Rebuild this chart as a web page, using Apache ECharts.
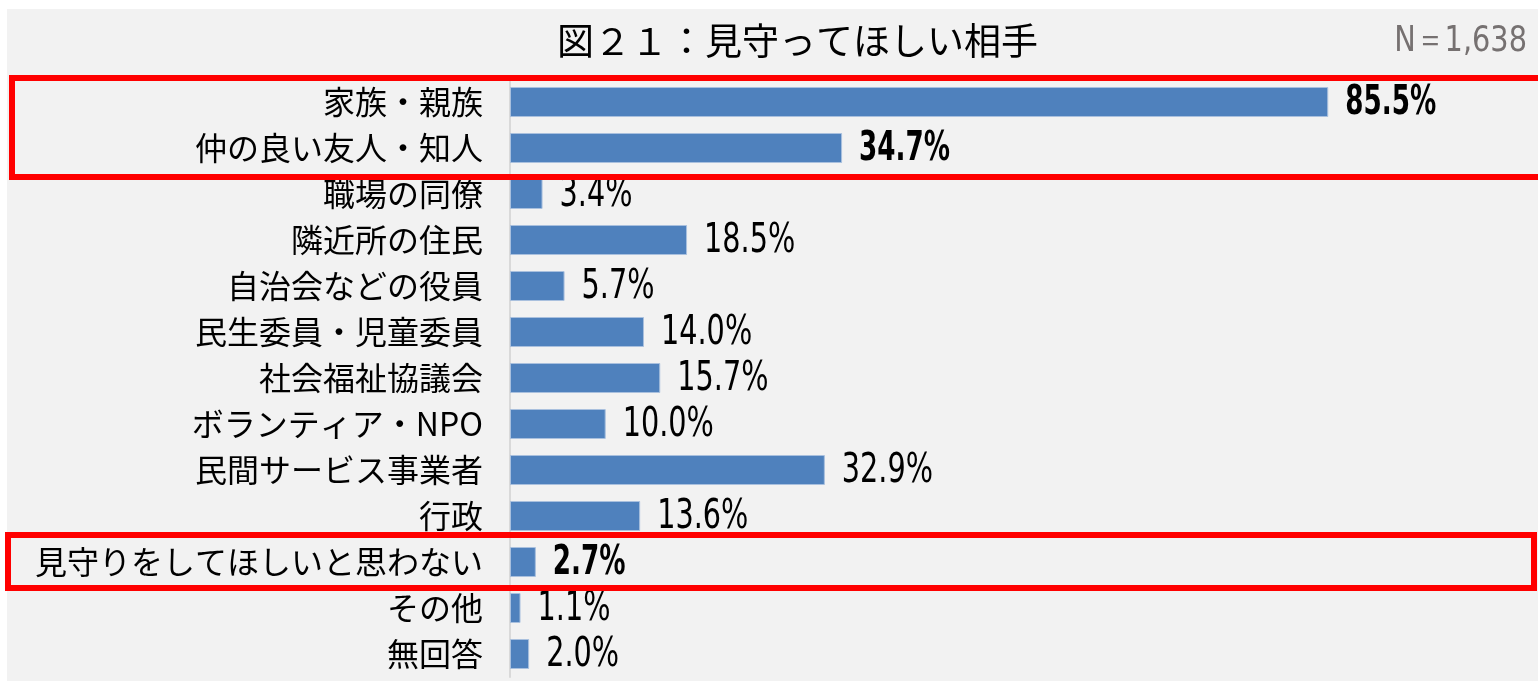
<!DOCTYPE html>
<html>
<head>
<meta charset="utf-8">
<script src="https://cdn.jsdelivr.net/npm/echarts@6/dist/echarts.min.js"></script>
<style>
  html, body { margin: 0; padding: 0; background: #fff; }
  #chart { width: 1538px; height: 681px; }
</style>
</head>
<body>
<div id="chart"></div>
<script>
// 図２１：見守ってほしい相手
const categories = [
  '家族・親族', '仲の良い友人・知人', '職場の同僚', '隣近所の住民', '自治会などの役員',
  '民生委員・児童委員', '社会福祉協議会', 'ボランティア・NPO', '民間サービス事業者',
  '行政', '見守りをしてほしいと思わない', 'その他', '無回答'
];
const values = [85.5, 34.7, 3.4, 18.5, 5.7, 14.0, 15.7, 10.0, 32.9, 13.6, 2.7, 1.1, 2.0];
// 赤枠で強調している項目
const highlighted = ['家族・親族', '仲の良い友人・知人', '見守りをしてほしいと思わない'];

const num = '"DejaVu Sans", sans-serif';
const jp = '"Noto Sans CJK JP", sans-serif';

const chart = echarts.init(document.getElementById('chart'));

// 数値ラベルは細長い字形なので横方向に縮めて描く
const renderLabel = (params, api) => {
  const idx = api.value(1);
  const pt = api.coord([api.value(0), idx]);
  const bold = highlighted.includes(categories[idx]);
  return {
    type: 'text',
    x: pt[0] + 17,
    y: pt[1] + 1,
    scaleX: bold ? 0.64 : 0.7,
    style: {
      text: api.value(0).toFixed(1) + '%',
      font: (bold ? 'bold ' : '') + '41px ' + num,
      fill: '#000',
      textAlign: 'left',
      textVerticalAlign: 'middle'
    }
  };
};

const option = {
  backgroundColor: '#ffffff',
  animation: false,
  title: {
    text: '図２１：見守ってほしい相手',
    left: 552,
    top: 17,
    textStyle: { fontFamily: jp, fontSize: 37, fontWeight: 'normal', color: '#000' }
  },
  graphic: [
    { type: 'rect', z: -10, shape: { x: 7, y: 9, width: 1531, height: 672 }, style: { fill: '#f2f2f2' } },
    { type: 'text', x: 1527, y: 42, scaleX: 0.8,
      style: { text: 'N＝1,638', fill: '#767171', font: '36px ' + num, textAlign: 'right', textVerticalAlign: 'middle' } },
    { type: 'rect', z: 100, shape: { x: 12, y: 78, width: 1540, height: 99 },
      style: { fill: 'none', stroke: '#ff0000', lineWidth: 6 } },
    { type: 'rect', z: 100, shape: { x: 8, y: 535, width: 1526, height: 53 },
      style: { fill: 'none', stroke: '#ff0000', lineWidth: 6 } }
  ],
  grid: { left: 510, right: 71, top: 79, bottom: 4, containLabel: false },
  xAxis: { type: 'value', min: 0, max: 100, show: false },
  yAxis: {
    type: 'category',
    data: categories,
    inverse: true,
    axisLine: { lineStyle: { color: '#d9d9d9', width: 2 } },
    axisTick: { show: false },
    axisLabel: { margin: 27, fontFamily: jp, fontSize: 32, color: '#000' }
  },
  series: [
    {
      type: 'bar',
      barWidth: 30,
      data: values,
      itemStyle: { color: '#4f81bd', borderColor: '#a9c0de', borderWidth: 1 }
    },
    {
      type: 'custom',
      data: values.map((v, i) => [v, i]),
      encode: { x: 0, y: 1 },
      renderItem: renderLabel,
      z: 5
    }
  ]
};

chart.setOption(option);
</script>
</body>
</html>
